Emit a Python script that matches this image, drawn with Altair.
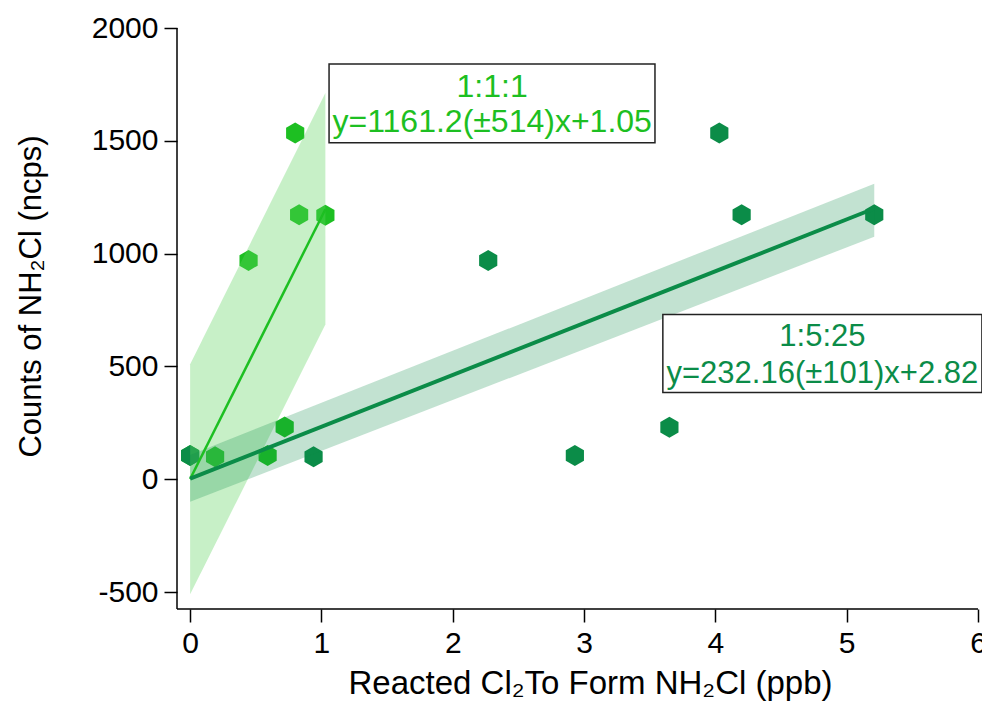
import altair as alt
import pandas as pd

# ---- data ----
dark_x = [0.0, 0.94, 2.27, 2.93, 3.65, 4.03, 4.20, 5.21]
dark_y = [105, 100, 970, 105, 230, 1535, 1172, 1172]
light_x = [0.0, 0.19, 0.445, 0.59, 0.72, 0.80, 0.83, 1.03]
light_y = [105, 100, 970, 105, 232, 1535, 1172, 1170]

light_band_x = [0.0, 1.03]
light_band_lo = [-510, 686]
light_band_hi = [510, 1712]
dark_band_x = [0.0, 5.21]
dark_band_lo = [-100, 1075]
dark_band_hi = [108, 1310]

light_line_x = [0.0, 1.03]
light_line_y = [1, 1197]
dark_line_x = [0.0, 5.21]
dark_line_y = [3, 1200]

x_ticks = [0, 1, 2, 3, 4, 5, 6]
y_ticks = [-500, 0, 500, 1000, 1500, 2000]

box_labels = ["1:1:1", "1:5:25"]
box_eqs = ["y=1161.2(\u00b1514)x+1.05", "y=232.16(\u00b1101)x+2.82"]
box_x1 = [1.058, 3.60]
box_x2 = [3.54, 6.03]
box_y1 = [1491, 385]
box_y2 = [1841, 730]
box_tx = [2.30, 4.815]
box_ty1 = [1696, 590]
box_ty2 = [1537, 428]

LIGHT = "#1dbf22"
DARK = "#0b8c48"
FONT = "Liberation Sans"

# axis extent (the drawn axis lines) and the scale extent (slightly larger view)
AX_X = [-0.1, 6]
AX_Y = [-575, 2000]
SC_X = [-0.1, 6.1676]
SC_Y = [-575, 2133]

light_pts = pd.DataFrame({"x": light_x, "y": light_y})
dark_pts = pd.DataFrame({"x": dark_x, "y": dark_y})
lband = pd.DataFrame({"x": light_band_x, "lo": light_band_lo, "hi": light_band_hi})
dband = pd.DataFrame({"x": dark_band_x, "lo": dark_band_lo, "hi": dark_band_hi})
lline = pd.DataFrame({"x": light_line_x, "y": light_line_y})
dline = pd.DataFrame({"x": dark_line_x, "y": dark_line_y})
boxes = pd.DataFrame({
    "x1": box_x1, "x2": box_x2, "y1": box_y1, "y2": box_y2,
    "tx": box_tx, "ty1": box_ty1, "ty2": box_ty2,
    "lab": box_labels, "eq": box_eqs, "grp": ["light", "dark"],
})

xs = alt.Scale(domain=SC_X, nice=False, zero=False)
ys = alt.Scale(domain=SC_Y, nice=False, zero=False)

label_expr = "datum.value < 0 ? '-' + abs(datum.value) : '' + datum.value"

axis_common = dict(
    grid=False, domain=False, tickColor="black",
    tickWidth=1.5, tickSize=13, labelFontSize=30, labelColor="black",
    labelFont=FONT, titleFont=FONT, titleFontWeight="normal",
    titleColor="black", labelExpr=label_expr,
)

xaxis = alt.Axis(values=x_ticks, title="Reacted Cl\u2082To Form NH\u2082Cl (ppb)",
                 labelPadding=6, titleX=413, titleY=74, titleBaseline="middle",
                 titleAlign="center", titleFontSize=33, **axis_common)
yaxis = alt.Axis(values=y_ticks, title="Counts of NH\u2082Cl (ncps)",
                 labelPadding=6, titleX=-146, titleY=298, titleAngle=-90,
                 titleBaseline="middle", titleAlign="center", titleFontSize=31,
                 **axis_common)

hexagon = "M0,-1L0.866,-0.5L0.866,0.5L0,1L-0.866,0.5L-0.866,-0.5Z"

base_x = alt.X("x:Q", scale=xs, axis=xaxis)
base_y = alt.Y("y:Q", scale=ys, axis=yaxis)

p_light = alt.Chart(light_pts).mark_point(
    shape=hexagon, size=441, filled=True, color=LIGHT, opacity=1
).encode(x=base_x, y=base_y)
p_dark = alt.Chart(dark_pts).mark_point(
    shape=hexagon, size=441, filled=True, color=DARK, opacity=1
).encode(x=alt.X("x:Q", scale=xs), y=alt.Y("y:Q", scale=ys))

b_light = alt.Chart(lband).mark_area(color="#5fd35f", opacity=0.35).encode(
    x=alt.X("x:Q", scale=xs), y=alt.Y("lo:Q", scale=ys), y2="hi:Q")
b_dark = alt.Chart(dband).mark_area(color=DARK, opacity=0.25).encode(
    x=alt.X("x:Q", scale=xs), y=alt.Y("lo:Q", scale=ys), y2="hi:Q")

l_light = alt.Chart(lline).mark_line(color=LIGHT, strokeWidth=2.5).encode(
    x=alt.X("x:Q", scale=xs), y=alt.Y("y:Q", scale=ys))
l_dark = alt.Chart(dline).mark_line(color=DARK, strokeWidth=4).encode(
    x=alt.X("x:Q", scale=xs), y=alt.Y("y:Q", scale=ys))

# axis lines (left and bottom only, as in the reference)
x_axis_line = alt.Chart(pd.DataFrame({"a": [AX_X[0]], "b": [AX_X[1]], "c": [AX_Y[0]]})).mark_rule(
    color="black", strokeWidth=1.5
).encode(x=alt.X("a:Q", scale=xs), x2="b:Q", y=alt.Y("c:Q", scale=ys))
y_axis_line = alt.Chart(pd.DataFrame({"a": [AX_X[0]], "c": [AX_Y[0]], "d": [AX_Y[1]]})).mark_rule(
    color="black", strokeWidth=1.5
).encode(x=alt.X("a:Q", scale=xs), y=alt.Y("c:Q", scale=ys), y2="d:Q")

rects = alt.Chart(boxes).mark_rect(
    fill="white", stroke="#222222", strokeWidth=1.5
).encode(
    x=alt.X("x1:Q", scale=xs), x2="x2:Q",
    y=alt.Y("y1:Q", scale=ys), y2="y2:Q",
)

color_scale = alt.Scale(domain=["light", "dark"], range=[LIGHT, DARK])


def box_text(field, yfield, grp, size):
    return alt.Chart(boxes).transform_filter(
        alt.datum.grp == grp
    ).mark_text(
        font=FONT, fontSize=size, align="center", baseline="alphabetic"
    ).encode(
        x=alt.X("tx:Q", scale=xs), y=alt.Y(f"{yfield}:Q", scale=ys),
        text=f"{field}:N",
        color=alt.Color("grp:N", scale=color_scale, legend=None),
    )


texts = [
    box_text("lab", "ty1", "light", 32),
    box_text("eq", "ty2", "light", 32),
    box_text("lab", "ty1", "dark", 31),
    box_text("eq", "ty2", "dark", 31),
]

chart = alt.layer(
    p_light, p_dark, b_light, b_dark, l_light, l_dark,
    x_axis_line, y_axis_line, rects, *texts
).properties(
    width=823, height=611,
    autosize=alt.AutoSizeParams(type="none"),
    padding={"left": 169, "top": -10, "right": -18, "bottom": 92},
    background="white",
).configure_view(stroke="transparent", strokeWidth=0)

chart.save("out.html", embed_options={"renderer": "svg", "actions": False})
